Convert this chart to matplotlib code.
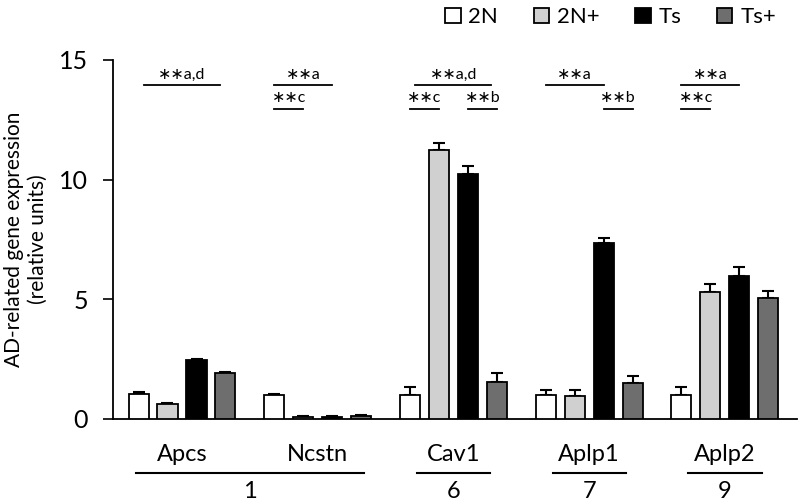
import matplotlib
matplotlib.use("Agg")
import matplotlib.pyplot as plt
from matplotlib.patches import Patch
import numpy as np

plt.rcParams["font.family"] = ["Lato", "DejaVu Sans"]

genes = ["Apcs", "Ncstn", "Cav1", "Aplp1", "Aplp2"]
groups = ["2N", "2N+", "Ts", "Ts+"]
colors = ["#ffffff", "#d0d0d0", "#000000", "#6e6e6e"]

val_2n = [1.05, 1.0, 1.0, 1.0, 1.0]
val_2np = [0.6, 0.07, 11.25, 0.97, 5.3]
val_ts = [2.45, 0.08, 10.25, 7.35, 5.95]
val_tsp = [1.9, 0.12, 1.55, 1.5, 5.05]

err_2n = [0.07, 0.03, 0.35, 0.2, 0.35]
err_2np = [0.07, 0.03, 0.3, 0.25, 0.35]
err_ts = [0.07, 0.03, 0.3, 0.2, 0.4]
err_tsp = [0.07, 0.03, 0.35, 0.3, 0.3]

# significance marks: gene index, from bar, to bar, level, text
sig_gene = [0, 1, 1, 2, 2, 2, 3, 3, 4, 4]
sig_from = [0, 0, 0, 0, 0, 2, 0, 2, 0, 0]
sig_to = [3, 2, 1, 3, 1, 3, 2, 3, 2, 1]
sig_level = [0, 0, 1, 0, 1, 1, 0, 1, 0, 1]
sig_text = ["∗∗a,d", "∗∗a", "∗∗c", "∗∗a,d", "∗∗c", "∗∗b", "∗∗a", "∗∗b", "∗∗a", "∗∗c"]

# chromosome groups under gene names
chrom_labels = ["1", "6", "7", "9"]
chrom_start = [0, 2, 3, 4]
chrom_end = [1, 2, 3, 4]

values = [val_2n, val_2np, val_ts, val_tsp]
errors = [err_2n, err_2np, err_ts, err_tsp]

fig = plt.figure(figsize=(8, 5.04), dpi=100)
ax = fig.add_axes([0.141, 0.169, 0.855, 0.712])

x = np.arange(len(genes))
offsets = [-0.32, -0.107, 0.107, 0.32]
width = 0.148

for k in range(4):
    ax.bar(x + offsets[k], values[k], width, color=colors[k],
           edgecolor="black", linewidth=1.3, zorder=3)
    ax.errorbar(x + offsets[k], values[k], yerr=[np.zeros(len(genes)), errors[k]],
                fmt="none", ecolor="black", elinewidth=1.5, capsize=4,
                capthick=1.5, zorder=2)

line_y = [13.95, 12.95]
for g, a, b, lvl, t in zip(sig_gene, sig_from, sig_to, sig_level, sig_text):
    x0 = g + offsets[a]
    x1 = g + offsets[b]
    if lvl == 0 and b == 3:
        x0 += 0.04
        x1 -= 0.04
    ax.plot([x0, x1], [line_y[lvl], line_y[lvl]], color="black", lw=1.3)
    ax.text((x0 + x1) / 2, line_y[lvl] + 0.15, t, ha="center", va="bottom",
            fontsize=11.5, family=["Lato", "DejaVu Sans"])

for i, g in enumerate(genes):
    ax.text(i, -1.5, g, ha="center", va="center", fontsize=17, clip_on=False)

for lab, s, e in zip(chrom_labels, chrom_start, chrom_end):
    ax.plot([s - 0.34, e + 0.34] if s != e else [s - 0.27, e + 0.27],
            [-2.25, -2.25], color="black", lw=1.5, clip_on=False)
    ax.text((s + e) / 2, -3.05, lab, ha="center", va="center",
            fontsize=17, clip_on=False)

ax.set_xlim(-0.51, 4.53)
ax.set_ylim(0, 15)
ax.set_yticks([0, 5, 10, 15])
ax.set_xticks([])
ax.tick_params(axis="y", labelsize=18, length=7, width=1.2, direction="out",
               pad=11)
ax.spines["top"].set_visible(False)
ax.spines["right"].set_visible(False)
ax.spines["left"].set_linewidth(1.3)
ax.spines["bottom"].set_linewidth(1.3)
ax.set_ylabel("AD-related gene expression\n(relative units)", fontsize=15,
              labelpad=8, linespacing=1.25)

handles = [Patch(facecolor=c, edgecolor="black", linewidth=1.3) for c in colors]
fig.legend(handles, groups, loc="upper right", bbox_to_anchor=(0.995, 1.025),
           ncol=4, frameon=False, fontsize=16, handlelength=0.7,
           handleheight=0.7, handletextpad=0.35, columnspacing=1.6)

fig.savefig("out.png", dpi=100)
